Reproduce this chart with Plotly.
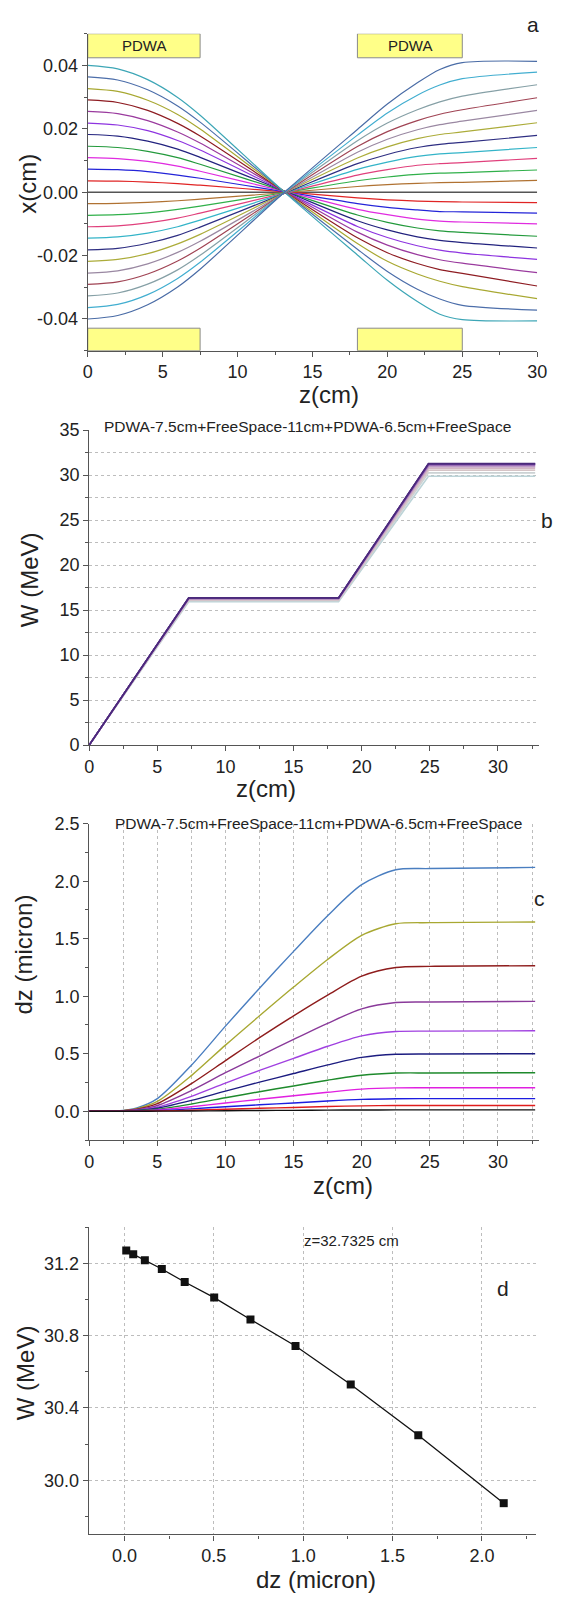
import plotly.graph_objects as go

W, H = 565, 1602
FONT = "Liberation Sans"


def px(x):
    return x / W


def py(y):
    return 1 - y / H


# ---------------- Panel a : x(z) trajectories ----------------
ZA = [0, 2, 4, 6, 7.5, 13.2, 18, 20, 22, 23.5, 25, 30]
# lines that start above the axis (k = 1..11)
XA_UP = [
    [0.0036, 0.0035, 0.0032, 0.0027, 0.0022, 0.0001, -0.0018, -0.0024, -0.0028, -0.0030, -0.0031, -0.0033],
    [0.0073, 0.0071, 0.0065, 0.0054, 0.0044, 0.0001, -0.0036, -0.0048, -0.0056, -0.0061, -0.0062, -0.0066],
    [0.0109, 0.0106, 0.0097, 0.0082, 0.0066, 0.0002, -0.0054, -0.0071, -0.0085, -0.0091, -0.0094, -0.0100],
    [0.0145, 0.0141, 0.0129, 0.0109, 0.0088, 0.0002, -0.0072, -0.0095, -0.0113, -0.0122, -0.0127, -0.0139],
    [0.0182, 0.0177, 0.0161, 0.0136, 0.0110, 0.0002, -0.0090, -0.0119, -0.0141, -0.0152, -0.0159, -0.0176],
    [0.0218, 0.0212, 0.0194, 0.0163, 0.0133, 0.0001, -0.0108, -0.0143, -0.0169, -0.0183, -0.0192, -0.0212],
    [0.0255, 0.0248, 0.0226, 0.0190, 0.0155, 0.0001, -0.0126, -0.0167, -0.0197, -0.0213, -0.0224, -0.0254],
    [0.0291, 0.0283, 0.0258, 0.0217, 0.0177, 0.0000, -0.0144, -0.0191, -0.0225, -0.0244, -0.0256, -0.0296],
    [0.0327, 0.0318, 0.0290, 0.0245, 0.0199, -0.0001, -0.0162, -0.0218, -0.0258, -0.0281, -0.0298, -0.0336],
    [0.0364, 0.0354, 0.0323, 0.0272, 0.0221, -0.0002, -0.0180, -0.0250, -0.0306, -0.0337, -0.0357, -0.0372],
    [0.0400, 0.0389, 0.0355, 0.0299, 0.0243, -0.0003, -0.0198, -0.0278, -0.0345, -0.0385, -0.0402, -0.0406],
]
# lines that start below the axis (k = 1..11)
XA_DOWN = [
    [-0.0036, -0.0035, -0.0032, -0.0027, -0.0022, -0.0001, 0.0018, 0.0024, 0.0028, 0.0030, 0.0031, 0.0037],
    [-0.0073, -0.0071, -0.0065, -0.0054, -0.0044, -0.0001, 0.0036, 0.0048, 0.0056, 0.0060, 0.0062, 0.0070],
    [-0.0109, -0.0106, -0.0097, -0.0082, -0.0066, -0.0002, 0.0054, 0.0071, 0.0085, 0.0090, 0.0093, 0.0107],
    [-0.0145, -0.0141, -0.0129, -0.0109, -0.0088, -0.0002, 0.0072, 0.0095, 0.0113, 0.0121, 0.0125, 0.0141],
    [-0.0182, -0.0177, -0.0161, -0.0136, -0.0110, -0.0002, 0.0090, 0.0119, 0.0141, 0.0151, 0.0157, 0.0179],
    [-0.0218, -0.0212, -0.0194, -0.0163, -0.0133, -0.0001, 0.0108, 0.0143, 0.0169, 0.0182, 0.0190, 0.0219],
    [-0.0255, -0.0248, -0.0226, -0.0190, -0.0155, -0.0001, 0.0126, 0.0167, 0.0197, 0.0213, 0.0224, 0.0258],
    [-0.0291, -0.0283, -0.0258, -0.0217, -0.0177, 0.0000, 0.0144, 0.0191, 0.0226, 0.0246, 0.0260, 0.0298],
    [-0.0327, -0.0318, -0.0290, -0.0245, -0.0199, 0.0001, 0.0162, 0.0218, 0.0260, 0.0285, 0.0303, 0.0339],
    [-0.0364, -0.0354, -0.0323, -0.0272, -0.0221, 0.0002, 0.0180, 0.0250, 0.0306, 0.0338, 0.0358, 0.0379],
    [-0.0400, -0.0389, -0.0355, -0.0299, -0.0243, 0.0003, 0.0198, 0.0278, 0.0345, 0.0387, 0.0409, 0.0413],
]
XA_AXIS = [0.0, 0.0, 0.0, 0.0, 0.0, 0.0, 0.0, 0.0, 0.0, 0.0, 0.0, 0.0]
COL_UP = ["#E02424", "#2424D8", "#E02CE0", "#239A3C", "#22227E", "#8E34E0",
          "#9A3A9E", "#8E1C22", "#A8A832", "#4C6EAA", "#3DA6B6"]
COL_DOWN = ["#B07232", "#30B04A", "#E0407C", "#34B4C8", "#2E2E82", "#ACAC3A",
            "#9A88A2", "#A04454", "#86A0A6", "#42AED0", "#4A6CA6"]
PDWA_Z = [(0, 7.5), (18, 25)]
A_YTICKS = [-0.04, -0.02, 0.0, 0.02, 0.04]
A_YTEXT = ["-0.04", "-0.02", "0.00", "0.02", "0.04"]

# ---------------- Panel b : W(z) ----------------
ZB = [0, 7.3, 18.3, 24.9, 32.73]
W_PLATEAU = [16.35, 16.34, 16.33, 16.31, 16.29, 16.26, 16.22, 16.17, 16.11, 16.03, 15.93]
W_END = [31.271, 31.251, 31.218, 31.169, 31.097, 31.011, 30.890, 30.743, 30.530, 30.249, 29.873]
COL_B = ["#4B2A7B", "#5E3590", "#7444A0", "#8A5AAE", "#A074B8", "#B48EC0",
         "#C6A6C6", "#D2B6C2", "#D6C4C6", "#CCD2D4", "#BCD4D8"]

# ---------------- Panel c : dz(z) ----------------
ZC = [0, 2, 3.5, 5, 7.5, 10, 12.5, 15, 17.5, 20, 22.5, 25, 32.73]
DZ_LINES = [
    [0, 0.003, 0.03, 0.11, 0.40, 0.74, 1.07, 1.39, 1.70, 1.97, 2.10, 2.11, 2.12],
    [0, 0.002, 0.023, 0.085, 0.31, 0.575, 0.83, 1.08, 1.32, 1.53, 1.63, 1.64, 1.645],
    [0, 0.002, 0.018, 0.066, 0.24, 0.44, 0.64, 0.83, 1.01, 1.175, 1.25, 1.26, 1.265],
    [0, 0.001, 0.014, 0.05, 0.18, 0.335, 0.48, 0.625, 0.765, 0.89, 0.945, 0.95, 0.955],
    [0, 0.001, 0.01, 0.036, 0.13, 0.245, 0.355, 0.46, 0.565, 0.655, 0.693, 0.697, 0.70],
    [0, 0.001, 0.007, 0.026, 0.094, 0.175, 0.253, 0.328, 0.403, 0.468, 0.495, 0.498, 0.50],
    [0, 0.0, 0.005, 0.017, 0.063, 0.117, 0.17, 0.22, 0.27, 0.313, 0.332, 0.333, 0.335],
    [0, 0.0, 0.003, 0.011, 0.039, 0.072, 0.104, 0.135, 0.165, 0.192, 0.203, 0.204, 0.205],
    [0, 0.0, 0.002, 0.006, 0.021, 0.039, 0.056, 0.072, 0.089, 0.103, 0.109, 0.11, 0.11],
    [0, 0.0, 0.001, 0.003, 0.009, 0.018, 0.026, 0.033, 0.041, 0.047, 0.05, 0.05, 0.05],
    [0, 0.0, 0.0, 0.001, 0.002, 0.005, 0.007, 0.008, 0.01, 0.011, 0.012, 0.012, 0.012],
]
COL_C = ["#4A7EC0", "#A8A832", "#8E1C1C", "#8A3A9A", "#A040E0", "#1C1C80",
         "#1E8A2C", "#E020E0", "#1C1CE0", "#E01C1C", "#111111"]

# ---------------- Panel d : W vs dz ----------------
DZ_END = [0.010, 0.049, 0.114, 0.209, 0.337, 0.502, 0.705, 0.957, 1.266, 1.644, 2.122]

fig = go.Figure()

# panel a traces
fig.add_trace(go.Scatter(x=ZA, y=XA_AXIS, mode="lines", line=dict(color="#555555", width=1.6),
                         xaxis="x", yaxis="y", showlegend=False))
for ys, c in zip(XA_UP, COL_UP):
    fig.add_trace(go.Scatter(x=ZA, y=ys, mode="lines", line=dict(color=c, width=1.2, shape="spline", smoothing=0.8),
                             xaxis="x", yaxis="y", showlegend=False))
for ys, c in zip(XA_DOWN, COL_DOWN):
    fig.add_trace(go.Scatter(x=ZA, y=ys, mode="lines", line=dict(color=c, width=1.2, shape="spline", smoothing=0.8),
                             xaxis="x", yaxis="y", showlegend=False))

# panel b traces (lightest first so dark purple lies on top)
for p, e, c in reversed(list(zip(W_PLATEAU, W_END, COL_B))):
    fig.add_trace(go.Scatter(x=ZB, y=[0, p, p, e, e], mode="lines", line=dict(color=c, width=1.6),
                             xaxis="x2", yaxis="y2", showlegend=False))

# panel c traces
for ys, c in zip(DZ_LINES, COL_C):
    fig.add_trace(go.Scatter(x=ZC, y=ys, mode="lines", line=dict(color=c, width=1.4, shape="spline", smoothing=0.8),
                             xaxis="x3", yaxis="y3", showlegend=False))

# panel d trace
fig.add_trace(go.Scatter(x=DZ_END, y=W_END, mode="lines+markers",
                         line=dict(color="#111111", width=1.3),
                         marker=dict(symbol="square", size=8, color="#111111"),
                         xaxis="x4", yaxis="y4", showlegend=False))

AX = dict(showline=True, linecolor="#555555", linewidth=1.3, ticks="outside", ticklen=5,
          tickwidth=1.2, tickcolor="#555555", zeroline=False, showgrid=False,
          tickfont=dict(family=FONT, size=18, color="#222222"))
GRID = dict(gridcolor="#BDBDBD", griddash="dot", gridwidth=1)
MINOR = dict(ticks="outside", ticklen=3, tickcolor="#555555")

layout = dict(
    width=W, height=H, margin=dict(l=0, r=0, t=0, b=0),
    paper_bgcolor="white", plot_bgcolor="white", showlegend=False,
    font=dict(family=FONT, color="#222222"),
)

# a
layout["xaxis"] = dict(AX, domain=[px(85), px(546.7)], range=[0, 30], anchor="y", dtick=5, tick0=0,
                       minor=dict(MINOR, dtick=2.5))
layout["yaxis"] = dict(AX, domain=[py(345), py(24)], range=[-0.05, 0.05], anchor="x",
                       tickmode="array", tickvals=A_YTICKS, ticktext=A_YTEXT,
                       minor=dict(MINOR, tick0=0, dtick=0.01))
# b
layout["xaxis2"] = dict(AX, domain=[px(86.5), px(548.4)], range=[0, 33], anchor="y2", dtick=5, tick0=0,
                        minor=dict(MINOR, dtick=2.5))
layout["yaxis2"] = dict(AX, domain=[py(744.3), py(425.4)], range=[0, 35], anchor="x2", dtick=5, tick0=0,
                        showgrid=True, **GRID,
                        minor=dict(MINOR, dtick=2.5, showgrid=True, **GRID))
# c
layout["xaxis3"] = dict(AX, domain=[px(86.5), px(548.4)], range=[0, 33], anchor="y3", dtick=5, tick0=0,
                        showgrid=True, **GRID,
                        minor=dict(MINOR, dtick=2.5, showgrid=True, **GRID))
layout["yaxis3"] = dict(AX, domain=[py(1144.3), py(824)], range=[-0.25, 2.5], anchor="x3", dtick=0.5,
                        tick0=0, tickformat=".1f",
                        minor=dict(MINOR, dtick=0.25, tick0=0))
# d
layout["xaxis4"] = dict(AX, domain=[px(86), px(545)], range=[-0.2, 2.3], anchor="y4", dtick=0.5, tick0=0,
                        tickformat=".1f", showgrid=True, **GRID,
                        minor=dict(MINOR, dtick=0.25, tick0=0))
layout["yaxis4"] = dict(AX, domain=[py(1543.7), py(1232.7)], range=[29.7, 31.4], anchor="x4", dtick=0.4,
                        tick0=30.0, tickformat=".1f", showgrid=True, **GRID,
                        minor=dict(MINOR, dtick=0.2, tick0=30.0))

fig.update_layout(**layout)

# PDWA boxes in panel a
shapes = []
for z0, z1 in PDWA_Z:
    shapes.append(dict(type="rect", xref="x", yref="y", x0=z0, x1=z1, y0=0.0424, y1=0.05,
                       fillcolor="#FFFF88", line=dict(color="#8A8A8A", width=1), layer="below"))
    shapes.append(dict(type="rect", xref="x", yref="y", x0=z0, x1=z1, y0=-0.05, y1=-0.0429,
                       fillcolor="#FFFF88", line=dict(color="#8A8A8A", width=1), layer="below"))
fig.update_layout(shapes=shapes)

ann = []


def txt(text, x, y, size, angle=0, xref="paper", yref="paper", color="#222222"):
    if xref == "paper":
        x, y = px(x), py(y)
    ann.append(dict(text=text, x=x, y=y, xref=xref, yref=yref, showarrow=False,
                    xanchor="center", yanchor="middle", textangle=angle,
                    font=dict(family=FONT, size=size, color=color)))


for z0, z1 in PDWA_Z:
    txt("PDWA", (z0 + z1) / 2, 0.0462, 15, xref="x", yref="y")

TITLE_BC = "PDWA-7.5cm+FreeSpace-11cm+PDWA-6.5cm+FreeSpace"
txt("a", 542, 15, 21)
txt("x(cm)", 23.5, 176, 24, angle=-90)
txt("z(cm)", 333, 389, 24)

txt(TITLE_BC, 311, 422, 15.5)
txt("b", 557, 517, 21)
txt("W (MeV)", 25, 577, 24, angle=-90)
txt("z(cm)", 268, 788, 24)

txt(TITLE_BC, 322, 824, 15.5)
txt("c", 549.5, 900, 21)
txt("dz (micron)", 19, 956, 24, angle=-90)
txt("z(cm)", 347, 1190, 24)

txt("z=32.7325 cm", 356, 1246, 15)
txt("d", 511.6, 1295, 21)
txt("W (MeV)", 21, 1380, 24, angle=-90)
txt("dz (micron)", 319, 1589, 24)

fig.update_layout(annotations=ann)

fig.write_html("out.html")
